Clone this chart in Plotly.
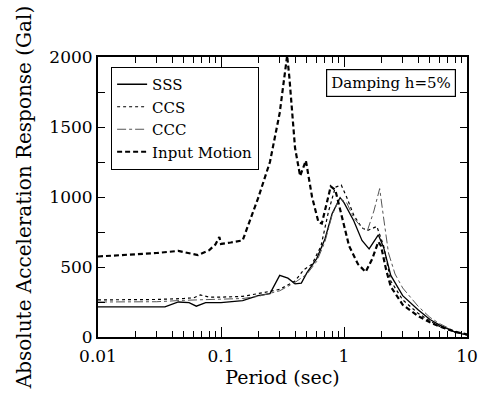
import plotly.graph_objects as go

# Periods (sec) and responses (Gal)
sss_period = [0.01, 0.02, 0.035, 0.045, 0.055, 0.063, 0.075, 0.1, 0.15, 0.2, 0.25, 0.3, 0.35, 0.4, 0.45,
              0.5, 0.6, 0.7, 0.8, 0.93, 1.0, 1.2, 1.4, 1.6, 1.9, 2.1, 2.4, 3.0, 4.0, 5.0, 6.0, 8.0, 10.0]
sss_value = [215, 215, 215, 250, 245, 220, 245, 245, 260, 295, 310, 440, 420, 380, 385,
             460, 560, 700, 880, 995, 960, 830, 690, 630, 730, 640, 440, 295, 195, 125, 85, 35, 15]

ccs_period = [0.01, 0.03, 0.05, 0.06, 0.068, 0.08, 0.1, 0.15, 0.2, 0.3, 0.4, 0.47, 0.55, 0.65, 0.75,
              0.85, 0.95, 1.05, 1.2, 1.4, 1.55, 1.85, 2.1, 2.4, 3.0, 4.0, 5.0, 6.0, 8.0, 10.0]
ccs_value = [265, 268, 275, 280, 300, 285, 285, 290, 310, 340, 400, 480, 520, 650, 900,
             1070, 1085, 1000, 870, 780, 760, 790, 650, 400, 265, 170, 115, 75, 35, 15]

ccc_period = [0.01, 0.03, 0.05, 0.1, 0.15, 0.2, 0.3, 0.4, 0.5, 0.6, 0.7, 0.8, 0.92, 1.05, 1.2,
              1.4, 1.55, 1.75, 1.95, 2.1, 2.3, 2.6, 3.0, 4.0, 5.0, 6.0, 8.0, 10.0]
ccc_value = [250, 252, 262, 270, 275, 290, 330, 390, 450, 540, 680, 870, 990, 960, 850,
             780, 760, 900, 1060, 850, 600, 450, 350, 220, 140, 95, 40, 15]

inp_period = [0.01, 0.02, 0.03, 0.045, 0.055, 0.065, 0.08, 0.09, 0.097, 0.1, 0.12, 0.15, 0.2, 0.25,
              0.3, 0.33, 0.345, 0.36, 0.4, 0.44, 0.49, 0.55, 0.62, 0.66, 0.72, 0.78, 0.85, 0.95,
              1.1, 1.3, 1.5, 1.7, 1.9, 2.0, 2.2, 2.4, 3.0, 4.0, 5.0, 6.0, 8.0, 10.0]
inp_value = [575, 590, 600, 615, 600, 585, 620, 660, 715, 665, 675, 690, 990, 1250,
             1600, 1900, 2010, 1850, 1350, 1150, 1260, 1000, 820, 810, 950, 1075, 1050, 870,
             650, 520, 465, 560, 680, 650, 480, 360, 230, 150, 105, 75, 38, 18]

x_ticks = [0.01, 0.1, 1, 10]
x_ticktext = ["0.01", "0.1", "1", "10"]
x_minor = [m * d for d in (0.01, 0.1, 1) for m in range(2, 10)]
y_ticks = [0, 500, 1000, 1500, 2000]

FONT = "DejaVu Serif"

fig = go.Figure()
fig.add_trace(go.Scatter(x=sss_period, y=sss_value, mode="lines", name="SSS",
                         line=dict(color="black", width=1.3, dash="solid")))
fig.add_trace(go.Scatter(x=ccs_period, y=ccs_value, mode="lines", name="CCS",
                         line=dict(color="black", width=1.2, dash="dot")))
fig.add_trace(go.Scatter(x=ccc_period, y=ccc_value, mode="lines", name="CCC",
                         line=dict(color="#555555", width=1.0, dash="dashdot")))
fig.add_trace(go.Scatter(x=inp_period, y=inp_value, mode="lines", name="Input Motion",
                         line=dict(color="black", width=2.2, dash="5px,3px")))

fig.update_layout(
    width=490, height=396,
    margin=dict(l=98, r=19, t=57, b=58),
    paper_bgcolor="white", plot_bgcolor="white",
    font=dict(family=FONT, color="black", size=17),
    showlegend=True,
    legend=dict(x=0.035, y=0.965, xanchor="left", yanchor="top",
                bgcolor="white", bordercolor="black", borderwidth=1.2,
                font=dict(family=FONT, size=15), tracegroupgap=0),
    annotations=[dict(text="Damping h=5%", xref="paper", yref="paper",
                      x=0.9705, y=0.958, xanchor="right", yanchor="top",
                      showarrow=False, bordercolor="black", borderwidth=1.2,
                      borderpad=4, bgcolor="white",
                      font=dict(family=FONT, size=15))],
)
fig.update_xaxes(type="log", range=[-2, 1], tickvals=x_ticks, ticktext=x_ticktext,
                 ticks="inside", ticklen=10, tickwidth=1.2, tickcolor="black",
                 minor=dict(ticks="inside", tickmode="array", tickvals=x_minor,
                            ticklen=6, tickwidth=1, tickcolor="black", showgrid=False),
                 showline=True, linecolor="black", linewidth=2, mirror="allticks",
                 showgrid=False, zeroline=False, ticklabelstandoff=3,
                 title=dict(text="Period (sec)", font=dict(family=FONT, size=19), standoff=4),
                 tickfont=dict(family=FONT, size=17))
fig.update_yaxes(range=[0, 2000], tickvals=y_ticks,
                 ticks="inside", ticklen=7, tickwidth=1.2, tickcolor="black",
                 minor=dict(ticks="inside", ticklen=7, tickwidth=1, tickcolor="black",
                            dtick=250, showgrid=False),
                 showline=True, linecolor="black", linewidth=2, mirror="allticks",
                 showgrid=False, zeroline=False,
                 title=dict(text="Absolute Acceleration Response (Gal)",
                            font=dict(family=FONT, size=20), standoff=12),
                 tickfont=dict(family=FONT, size=17))

fig.write_html("out.html")
